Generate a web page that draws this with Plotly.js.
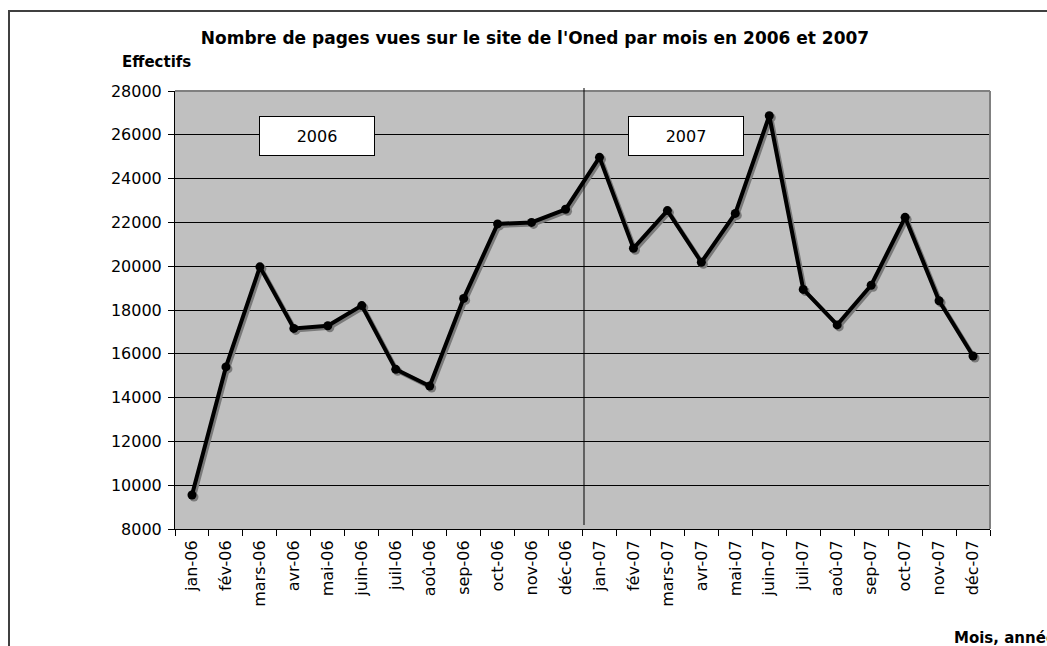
<!DOCTYPE html>
<html>
<head>
<meta charset="utf-8">
<script src="https://cdn.plot.ly/plotly-3.0.1.min.js"></script>
<style>
  html, body { margin: 0; padding: 0; background: #ffffff; overflow: hidden; }
  #wrap { position: relative; width: 1047px; height: 646px; }
  #chart { position: absolute; left: 0; top: 0; width: 1047px; height: 646px; }
  #frame { position: absolute; left: 8px; top: 10px; width: 1100px; height: 700px;
           border-left: 2px solid #404040; border-top: 2px solid #404040; pointer-events: none; }
</style>
</head>
<body>
<div id="wrap">
  <div id="chart"></div>
  <div id="frame"></div>
</div>
<script>
const months = ["jan-06","fév-06","mars-06","avr-06","mai-06","juin-06","juil-06","aoû-06","sep-06","oct-06","nov-06","déc-06",
                "jan-07","fév-07","mars-07","avr-07","mai-07","juin-07","juil-07","aoû-07","sep-07","oct-07","nov-07","déc-07"];
const pageViews = [9550, 15400, 19970, 17160, 17280, 18200, 15290, 14530, 18530, 21930, 22000, 22600,
                   24970, 20820, 22540, 20180, 22410, 26870, 18940, 17320, 19130, 22230, 18420, 15900];
const yearLabels = ["2006", "2007"];
const chartTitle = "Nombre de pages vues sur le site de l'Oned par mois en 2006 et 2007";
const yTitle = "Effectifs";
const xTitle = "Mois, année";

const FONT = "DejaVu Sans, Verdana, sans-serif";
const W = 1047, H = 646;
const L = 175, R = 990, T = 91, B = 529;
const pw = R - L, ph = B - T;
const px = x => (x - L) / pw;
const py = y => (B - y) / ph;

const nCat = months.length;
const idx = months.map((_, i) => i);
const shiftX = 2 / (pw / nCat);
const shiftY = 2 * 20000 / ph;

// base (carries axes, invisible)
const base = {
  x: months, y: pageViews,
  type: 'scatter', mode: 'lines',
  line: { color: 'rgba(0,0,0,0)', width: 0 },
  hoverinfo: 'skip', showlegend: false
};
const shadow = {
  x: idx, y: pageViews, xaxis: 'x2', yaxis: 'y2',
  type: 'scatter', mode: 'lines+markers',
  line: { color: '#7a7a7a', width: 4 },
  marker: { color: '#7a7a7a', size: 9 },
  hoverinfo: 'skip', showlegend: false
};
const main = {
  x: idx, y: pageViews, xaxis: 'x3', yaxis: 'y3',
  text: months,
  type: 'scatter', mode: 'lines+markers',
  line: { color: '#000000', width: 4 },
  marker: { color: '#000000', size: 9 },
  showlegend: false
};

const layout = {
  width: W, height: H,
  margin: { l: L, r: W - R, t: T, b: H - B, pad: 0 },
  paper_bgcolor: 'rgba(0,0,0,0)',
  plot_bgcolor: '#c0c0c0',
  font: { family: FONT, size: 16, color: '#000000' },
  title: {
    text: '<b>' + chartTitle + '</b>',
    font: { family: FONT, size: 17, color: '#000000' },
    xref: 'container', yref: 'container',
    x: 535 / W, y: 1 - 38 / H, xanchor: 'center', yanchor: 'middle'
  },
  xaxis: {
    type: 'category', categoryorder: 'array', categoryarray: months,
    range: [-0.5, nCat - 0.5],
    tickangle: -90, tickfont: { family: FONT, size: 16, color: '#000' },
    ticks: 'outside', tickson: 'boundaries', ticklen: 6, tickcolor: '#000', tickwidth: 1,
    ticklabelstandoff: 4,
    showline: true, linecolor: '#000', linewidth: 1,
    showgrid: false, zeroline: false, fixedrange: true
  },
  xaxis2: {
    overlaying: 'x', range: [-0.5 - shiftX, nCat - 0.5 - shiftX],
    visible: false, fixedrange: true
  },
  xaxis3: {
    overlaying: 'x', range: [-0.5, nCat - 0.5],
    visible: false, fixedrange: true
  },
  yaxis: {
    range: [8000, 28000], dtick: 2000, tick0: 8000,
    tickfont: { family: FONT, size: 16, color: '#000' },
    ticks: 'outside', ticklen: 6, tickcolor: '#000', tickwidth: 1,
    ticklabelstandoff: 3,
    showline: true, linecolor: '#000', linewidth: 1,
    showgrid: true, gridcolor: '#000000', gridwidth: 1,
    zeroline: false, fixedrange: true,
    tickformat: 'd'
  },
  yaxis2: {
    overlaying: 'y', range: [8000 + shiftY, 28000 + shiftY],
    visible: false, fixedrange: true
  },
  yaxis3: {
    overlaying: 'y', range: [8000, 28000],
    visible: false, fixedrange: true
  },
  shapes: [
    { type: 'line', xref: 'paper', yref: 'paper', x0: 0, x1: 1, y0: 1, y1: 1,
      line: { color: '#808080', width: 2 }, layer: 'above' },
    { type: 'line', xref: 'paper', yref: 'paper', x0: 1, x1: 1, y0: 0, y1: 1,
      line: { color: '#808080', width: 2 }, layer: 'above' },
    { type: 'line', xref: 'paper', yref: 'paper', x0: px(584), x1: px(584), y0: py(525), y1: py(88),
      line: { color: '#000000', width: 1 }, layer: 'above' }
  ],
  annotations: [
    { text: '<b>' + yTitle + '</b>', xref: 'paper', yref: 'paper',
      x: px(120), y: py(62), xanchor: 'left', yanchor: 'middle', showarrow: false,
      font: { family: FONT, size: 15, color: '#000' } },
    { text: '<b>' + xTitle + '</b>', xref: 'paper', yref: 'paper',
      x: px(952), y: py(638), xanchor: 'left', yanchor: 'middle', showarrow: false,
      font: { family: FONT, size: 15, color: '#000' } },
    { text: yearLabels[0], xref: 'paper', yref: 'paper',
      x: px(317), y: py(136), xanchor: 'center', yanchor: 'middle', showarrow: false,
      width: 112, height: 36, bgcolor: '#ffffff', bordercolor: '#000000', borderwidth: 1,
      font: { family: FONT, size: 16, color: '#000' } },
    { text: yearLabels[1], xref: 'paper', yref: 'paper',
      x: px(686), y: py(136), xanchor: 'center', yanchor: 'middle', showarrow: false,
      width: 112, height: 36, bgcolor: '#ffffff', bordercolor: '#000000', borderwidth: 1,
      font: { family: FONT, size: 16, color: '#000' } }
  ]
};

Plotly.newPlot('chart', [base, shadow, main], layout, { displayModeBar: false, staticPlot: true });
</script>
</body>
</html>
